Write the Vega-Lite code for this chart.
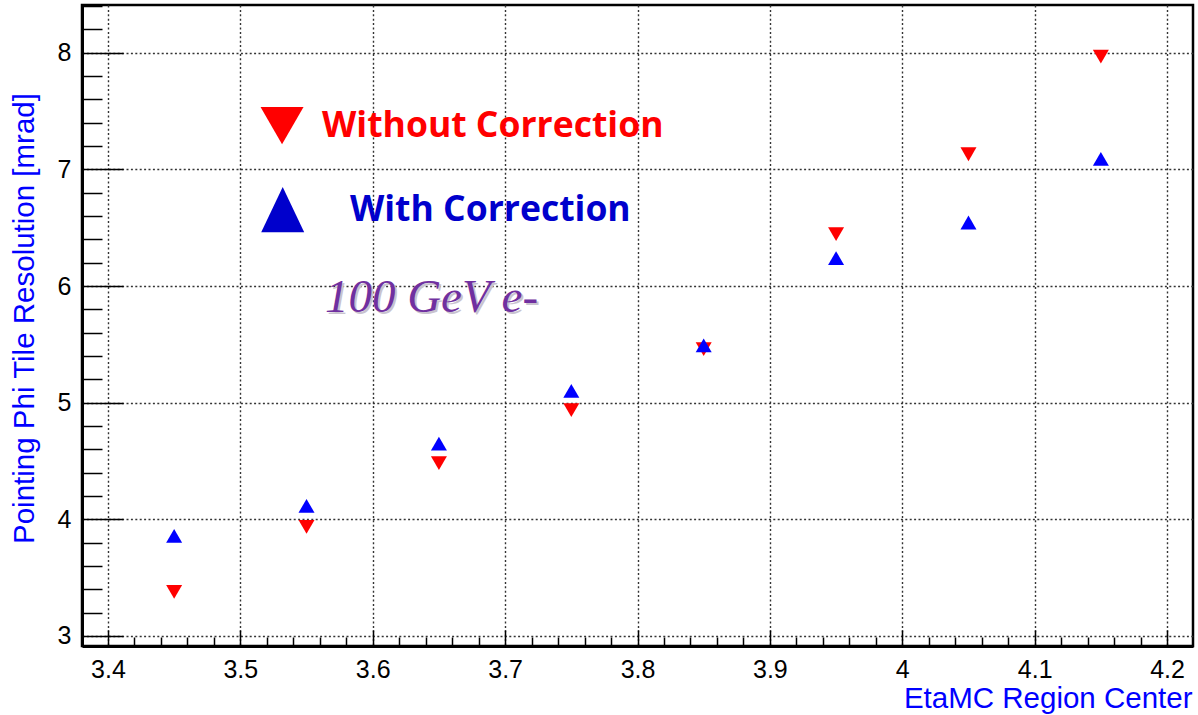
{
  "$schema": "https://vega.github.io/schema/vega-lite/v6.json",
  "width": 1111,
  "height": 641,
  "autosize": "none",
  "padding": {"left": 82, "top": 5, "right": 5, "bottom": 69},
  "background": "white",
  "config": {
    "view": {"stroke": "black", "strokeWidth": 2.5},
    "axis": {
      "domainColor": "black",
      "domainWidth": 3,
      "tickColor": "black",
      "tickWidth": 1.5,
      "gridColor": "#333333",
      "gridDash": [2, 2.4],
      "gridWidth": 1.4,
      "labelFont": "Liberation Sans",
      "labelFontSize": 25,
      "labelColor": "black",
      "labelOverlap": false,
      "labelFlush": false,
      "titleFont": "Liberation Sans",
      "titleFontSize": 29.5,
      "titleFontWeight": "normal",
      "titleColor": "#0000ff"
    }
  },
  "encoding": {
    "x": {
      "field": "eta",
      "type": "quantitative",
      "scale": {"domain": [3.3804, 4.2196], "nice": false, "zero": false},
      "axis": {
        "title": "EtaMC Region Center",
        "values": [3.4,3.42,3.44,3.46,3.48,3.5,3.52,3.54,3.56,3.58,3.6,3.62,3.64,3.66,3.68,3.7,3.72,3.74,3.76,3.78,3.8,3.82,3.84,3.86,3.88,3.9,3.92,3.94,3.96,3.98,4,4.02,4.04,4.06,4.08,4.1,4.12,4.14,4.16,4.18,4.2],
        "tickSize": {"condition": {"test": "abs(datum.value*10 - round(datum.value*10)) < 0.01", "value": -16}, "value": -9},
        "gridOpacity": {"condition": {"test": "abs(datum.value*10 - round(datum.value*10)) < 0.01", "value": 1}, "value": 0},
        "labelExpr": "abs(datum.value*10 - round(datum.value*10)) < 0.01 ? format(datum.value, '.2~r') : ''",
        "labelBaseline": "alphabetic",
        "labelPadding": 47,
        "titleAlign": "right",
        "titleAnchor": "end",
        "titleX": 1110,
        "titleY": 61,
        "titleBaseline": "alphabetic"
      }
    },
    "y": {
      "field": "res",
      "type": "quantitative",
      "scale": {"domain": [2.914, 8.41], "nice": false, "zero": false},
      "axis": {
        "title": "Pointing Phi Tile Resolution [mrad]",
        "values": [3,3.2,3.4,3.6,3.8,4,4.2,4.4,4.6,4.8,5,5.2,5.4,5.6,5.8,6,6.2,6.4,6.6,6.8,7,7.2,7.4,7.6,7.8,8,8.2,8.4],
        "tickSize": {"condition": {"test": "abs(datum.value - round(datum.value)) < 0.01", "value": -41}, "value": -20},
        "gridOpacity": {"condition": {"test": "abs(datum.value - round(datum.value)) < 0.01", "value": 1}, "value": 0},
        "labelExpr": "abs(datum.value - round(datum.value)) < 0.01 ? format(datum.value, 'd') : ''",
        "labelPadding": 52,
        "titleAngle": -90,
        "titleAlign": "center",
        "titleBaseline": "middle",
        "titleX": -58,
        "titleY": 313
      }
    }
  },
  "layer": [
    {
      "data": {
        "values": [
          {"eta": 3.45, "res": 3.378, "series": "Without Correction"},
          {"eta": 3.55, "res": 3.936, "series": "Without Correction"},
          {"eta": 3.65, "res": 4.482, "series": "Without Correction"},
          {"eta": 3.75, "res": 4.937, "series": "Without Correction"},
          {"eta": 3.85, "res": 5.46, "series": "Without Correction"},
          {"eta": 3.95, "res": 6.446, "series": "Without Correction"},
          {"eta": 4.05, "res": 7.13, "series": "Without Correction"},
          {"eta": 4.15, "res": 7.967, "series": "Without Correction"},
          {"eta": 3.45, "res": 3.858, "series": "With Correction"},
          {"eta": 3.55, "res": 4.116, "series": "With Correction"},
          {"eta": 3.65, "res": 4.649, "series": "With Correction"},
          {"eta": 3.75, "res": 5.101, "series": "With Correction"},
          {"eta": 3.85, "res": 5.492, "series": "With Correction"},
          {"eta": 3.95, "res": 6.24, "series": "With Correction"},
          {"eta": 4.05, "res": 6.545, "series": "With Correction"},
          {"eta": 4.15, "res": 7.091, "series": "With Correction"}
        ]
      },
      "mark": {"type": "point", "filled": true, "size": 256, "opacity": 1, "strokeWidth": 0},
      "encoding": {
        "color": {"field": "series", "type": "nominal", "scale": {"domain": ["Without Correction", "With Correction"], "range": ["#ff0000", "#0000ff"]}, "legend": null},
        "shape": {"field": "series", "type": "nominal", "scale": {"domain": ["Without Correction", "With Correction"], "range": ["triangle-down", "triangle-up"]}, "legend": null}
      }
    },
    {
      "data": {"values": [{"eta": 3.5315, "res": 7.3765}]},
      "mark": {"type": "point", "filled": true, "shape": "triangle-down", "size": 1849, "color": "#ff0000", "opacity": 1, "strokeWidth": 0}
    },
    {
      "data": {"values": [{"eta": 3.532, "res": 6.656}]},
      "mark": {"type": "point", "filled": true, "shape": "M0,-1.05L1,1.05L-1,1.05Z", "size": 1849, "color": "#0000cc", "opacity": 1, "strokeWidth": 0}
    },
    {
      "data": {"values": [{"eta": 3.5617, "res": 7.278, "text": "Without Correction"}]},
      "mark": {"type": "text", "align": "left", "baseline": "alphabetic", "font": "Open Sans", "fontWeight": "bold", "fontSize": 35.5, "color": "#ff0000"},
      "encoding": {"text": {"field": "text"}}
    },
    {
      "data": {"values": [{"eta": 3.5828, "res": 6.5575, "text": "With Correction"}]},
      "mark": {"type": "text", "align": "left", "baseline": "alphabetic", "font": "Open Sans", "fontWeight": "bold", "fontSize": 35.5, "color": "#0000cc"},
      "encoding": {"text": {"field": "text"}}
    },
    {
      "data": {"values": [{"eta": 3.5639, "res": 5.777, "text": "100 GeV e-"}]},
      "mark": {"type": "text", "align": "left", "baseline": "alphabetic", "font": "Liberation Serif", "fontStyle": "italic", "fontSize": 47, "color": "#c9c3cf", "dx": 2, "dy": 2},
      "encoding": {"text": {"field": "text"}}
    },
    {
      "data": {"values": [{"eta": 3.5639, "res": 5.777, "text": "100 GeV e-"}]},
      "mark": {"type": "text", "align": "left", "baseline": "alphabetic", "font": "Liberation Serif", "fontStyle": "italic", "fontSize": 47, "color": "#7030a0"},
      "encoding": {"text": {"field": "text"}}
    }
  ]
}
